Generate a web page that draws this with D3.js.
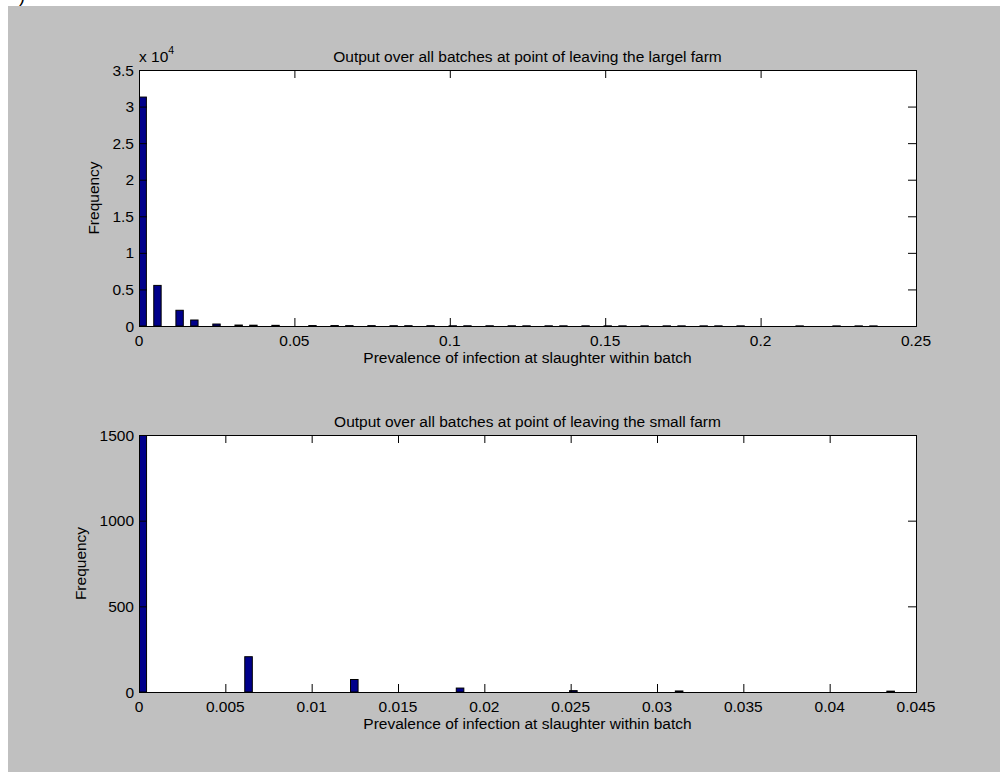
<!DOCTYPE html>
<html>
<head>
<meta charset="utf-8">
<script src="https://cdn.jsdelivr.net/npm/d3@7"></script>
<style>
  body { margin: 0; background: #ffffff; }
  svg { display: block; }
  text { font-family: "Liberation Sans", Arial, sans-serif; fill: #000; }
</style>
</head>
<body>
<svg id="chart" width="1000" height="772"></svg>
<script>
// ---------- DATA ----------
// Top panel (large farm): histogram bin centres and counts
const largeBinCenters = [0.0011875, 0.0059375, 0.0130625, 0.0178125, 0.0249375, 0.0320625, 0.0368125, 0.0439375,
  0.0510625, 0.0558125, 0.0629375, 0.0676875, 0.0748125, 0.0819375, 0.0866875, 0.0938125, 0.1009375, 0.1056875,
  0.1128125, 0.1199375, 0.1246875, 0.1318125, 0.1365625, 0.1436875, 0.1508125, 0.1555625, 0.1626875, 0.1698125,
  0.1745625, 0.1816875, 0.1864375, 0.1935625, 0.2006875, 0.2054375, 0.2125625, 0.2196875, 0.2244375, 0.2315625, 0.2363125];
const largeCounts = [31300, 5550, 2150, 820, 270, 130, 110, 90,
  0, 60, 60, 50, 50, 40, 40, 40, 30, 30,
  30, 30, 25, 25, 25, 25, 20, 20, 20, 20,
  20, 20, 20, 20, 0, 0, 15, 0, 15, 15, 15];
const largeBinWidth = 0.002375;
const largeXTicks = [0, 0.05, 0.1, 0.15, 0.2, 0.25];
const largeXTickLabels = ["0", "0.05", "0.1", "0.15", "0.2", "0.25"];
const largeYTicks = [0, 5000, 10000, 15000, 20000, 25000, 30000, 35000];
const largeYTickLabels = ["0", "0.5", "1", "1.5", "2", "2.5", "3", "3.5"];

// Bottom panel (small farm)
const smallBinCenters = [0.00021875, 0.00634375, 0.01246875, 0.01859375, 0.02515625, 0.03128125, 0.04353125];
const smallCounts = [1497, 206, 73, 23, 8, 6, 5];
const smallBinWidth = 0.0004375;
const smallXTicks = [0, 0.005, 0.01, 0.015, 0.02, 0.025, 0.03, 0.035, 0.04, 0.045];
const smallXTickLabels = ["0", "0.005", "0.01", "0.015", "0.02", "0.025", "0.03", "0.035", "0.04", "0.045"];
const smallYTicks = [0, 500, 1000, 1500];
const smallYTickLabels = ["0", "500", "1000", "1500"];

const titles = ["Output over all batches at point of leaving the largel farm",
                "Output over all batches at point of leaving the small farm"];
const xLabel = "Prevalence of infection at slaughter within batch";
const yLabel = "Frequency";

// ---------- DRAW ----------
const svg = d3.select("#chart");
const FS = 15.5;

// figure background
svg.append("rect").attr("x", 8).attr("y", 6).attr("width", 992).attr("height", 766).attr("fill", "#c0c0c0");
svg.append("text").attr("x", 19).attr("y", 2).attr("font-size", 18).text(")");

function panel(cfg) {
  const x = d3.scaleLinear().domain(cfg.xDomain).range([cfg.left, cfg.right]);
  const y = d3.scaleLinear().domain(cfg.yDomain).range([cfg.bottom, cfg.top]);
  const g = svg.append("g");
  const clipId = "clip" + cfg.id;
  g.append("clipPath").attr("id", clipId).append("rect")
    .attr("x", cfg.left).attr("y", cfg.top).attr("width", cfg.right - cfg.left).attr("height", cfg.bottom - cfg.top);

  g.append("rect").attr("x", cfg.left).attr("y", cfg.top)
    .attr("width", cfg.right - cfg.left).attr("height", cfg.bottom - cfg.top).attr("fill", "#ffffff");

  // bars
  g.append("g").attr("clip-path", `url(#${clipId})`)
    .selectAll("rect").data(cfg.centers.map((c, i) => ({c, v: cfg.counts[i]})).filter(d => d.v > 0))
    .join("rect")
    .attr("x", d => x(d.c - cfg.binWidth / 2))
    .attr("width", d => x(d.c + cfg.binWidth / 2) - x(d.c - cfg.binWidth / 2))
    .attr("y", d => y(d.v))
    .attr("height", d => y(0) - y(d.v))
    .attr("fill", "#00008b").attr("stroke", "#000").attr("stroke-width", 1);

  const TL = 8;
  // axes with inward ticks
  const xb = d3.axisBottom(x).tickValues(cfg.xTicks).tickSize(-TL).tickFormat("");
  const xt = d3.axisTop(x).tickValues(cfg.xTicks).tickSize(-TL).tickFormat("");
  const yl = d3.axisLeft(y).tickValues(cfg.yTicks).tickSize(-TL).tickFormat("");
  const yr = d3.axisRight(y).tickValues(cfg.yTicks).tickSize(-TL).tickFormat("");
  [[xb, `translate(0,${cfg.bottom})`], [xt, `translate(0,${cfg.top})`],
   [yl, `translate(${cfg.left},0)`], [yr, `translate(${cfg.right},0)`]].forEach(([ax, tr]) => {
    const a = g.append("g").attr("transform", tr).call(ax);
    a.selectAll("path.domain").attr("stroke", "#000").attr("stroke-width", 1);
    a.selectAll("line").attr("stroke", "#000");
  });

  // tick labels
  g.append("g").selectAll("text").data(cfg.xTicks).join("text")
    .attr("x", d => x(d)).attr("y", cfg.bottom + 20)
    .attr("text-anchor", "middle").attr("font-size", FS)
    .text((d, i) => cfg.xTickLabels[i]);
  g.append("g").selectAll("text").data(cfg.yTicks).join("text")
    .attr("x", cfg.left - 5).attr("y", d => y(d) + 5.5)
    .attr("text-anchor", "end").attr("font-size", FS)
    .text((d, i) => cfg.yTickLabels[i]);

  // labels
  g.append("text").attr("x", (cfg.left + cfg.right) / 2).attr("y", cfg.top - 8)
    .attr("text-anchor", "middle").attr("font-size", FS).text(cfg.title);
  g.append("text").attr("x", (cfg.left + cfg.right) / 2).attr("y", cfg.bottom + 37)
    .attr("text-anchor", "middle").attr("font-size", FS).text(xLabel);
  g.append("text").attr("transform", `translate(${cfg.yLabelX},${(cfg.top + cfg.bottom) / 2}) rotate(-90)`)
    .attr("text-anchor", "middle").attr("font-size", FS).text(yLabel);

  if (cfg.exponent) {
    const t = g.append("text").attr("x", cfg.left).attr("y", cfg.top - 8).attr("font-size", FS);
    t.append("tspan").text("x 10");
    t.append("tspan").attr("font-size", 10.5).attr("dy", -8).text(cfg.exponent);
  }
}

panel({
  id: 1, left: 139, right: 916, top: 70, bottom: 326,
  xDomain: [0, 0.25], yDomain: [0, 35000],
  centers: largeBinCenters, counts: largeCounts, binWidth: largeBinWidth,
  xTicks: largeXTicks, xTickLabels: largeXTickLabels,
  yTicks: largeYTicks, yTickLabels: largeYTickLabels,
  title: titles[0], yLabelX: 99, exponent: "4"
});

panel({
  id: 2, left: 139, right: 916, top: 435, bottom: 692,
  xDomain: [0, 0.045], yDomain: [0, 1500],
  centers: smallBinCenters, counts: smallCounts, binWidth: smallBinWidth,
  xTicks: smallXTicks, xTickLabels: smallXTickLabels,
  yTicks: smallYTicks, yTickLabels: smallYTickLabels,
  title: titles[1], yLabelX: 86
});
</script>
</body>
</html>
